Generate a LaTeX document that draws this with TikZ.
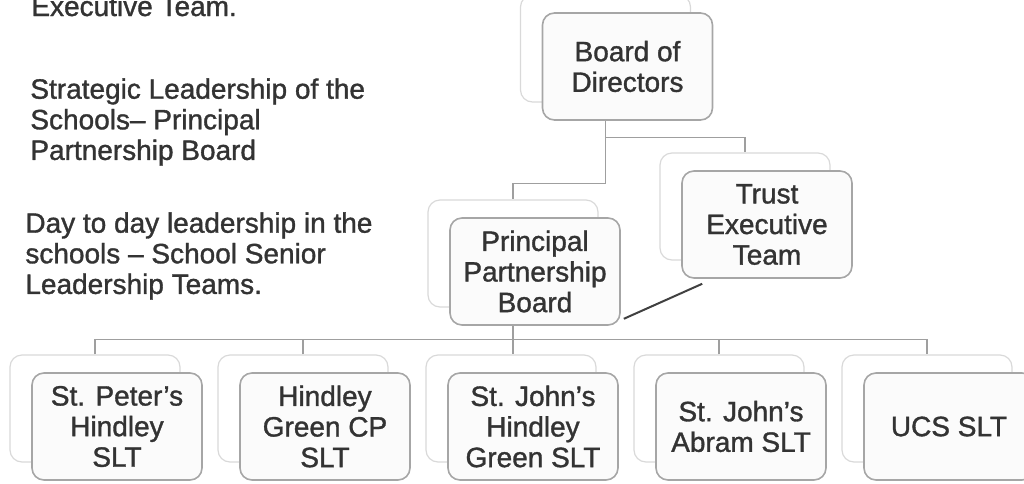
\documentclass[tikz,border=0pt]{standalone}
\usepackage{fontspec}
\setmainfont{Liberation Sans}[BoldFont={Liberation Sans}, BoldFeatures={FakeBold=1.2}]
\usetikzlibrary{positioning}

\begin{document}
\begin{tikzpicture}[x=0.5pt,y=-0.5pt,
  font={\fontsize{14}{15.3}\selectfont\bfseries},
  every node/.style={text=black!80},
  note/.style={inner sep=0pt, align=left},
  back/.style={draw=gray!30, line width=0.6pt, rounded corners=6pt, minimum width=85pt, minimum height=53.5pt},
  unit/.style={draw=gray!70, fill=gray!3, line width=0.8pt, rounded corners=6pt, minimum width=85pt, minimum height=53.5pt, align=center, inner sep=2pt},
  link/.style={draw=gray!75, line width=0.7pt}
]

\useasboundingbox (0,0) rectangle (1024,483);

% notes on the left
\node[note, anchor=base west] (exec) at (31,16) {Executive Team.};
\node[note, anchor=north west] (strat) at (30,78) {Strategic Leadership of the\\Schools-- Principal\\Partnership Board};
\node[note, anchor=north west] (day) at (25,212) {Day to day leadership in the\\schools -- School Senior\\Leadership Teams.};

% back boxes
\node[back] (bod-b) at (605.5,48.5) {};
\node[back] (ppb-b) at (513,253.5) {};
\node[back] (tet-b) at (745,206.5) {};
\foreach \i/\x in {1/95,2/303,3/511,4/719,5/927}
  \node[back] (s\i-b) at (\x,408.5) {};

% connectors
\draw[link] (bod-b.south) -- ++(0,81) -| (ppb-b.north);
\draw[link] (bod-b.south) -- ++(0,35) -| (tet-b.north);
\draw[link] (ppb-b.south) -- (ppb-b.south |- s3-b.north);
\draw[link] (s1-b.north) -- ++(0,-15) -| (s5-b.north);
\foreach \i in {2,4}
  \draw[link] (s\i-b.north) -- ++(0,-15);

% front boxes
\node[unit] (bod) at ([shift={(22,18)}]bod-b) {Board of\\Directors};
\node[unit] (ppb) at ([shift={(22,18)}]ppb-b) {Principal\\Partnership\\Board};
\node[unit] (tet) at ([shift={(22,18)}]tet-b) {Trust\\Executive\\Team};
\node[unit] (s1) at ([shift={(22,18)}]s1-b) {St. Peter's\\Hindley\\SLT};
\node[unit] (s2) at ([shift={(22,18)}]s2-b) {Hindley\\Green CP\\SLT};
\node[unit] (s3) at ([shift={(22,18)}]s3-b) {St. John's\\Hindley\\Green SLT};
\node[unit] (s4) at ([shift={(22,18)}]s4-b) {St. John's\\Abram SLT};
\node[unit] (s5) at ([shift={(22,18)}]s5-b) {UCS SLT};

\draw[draw=black!75, line width=1pt] ([shift={(21,5)}]tet.south west) -- ([shift={(3,-7)}]ppb.south east);

\end{tikzpicture}
\end{document}
